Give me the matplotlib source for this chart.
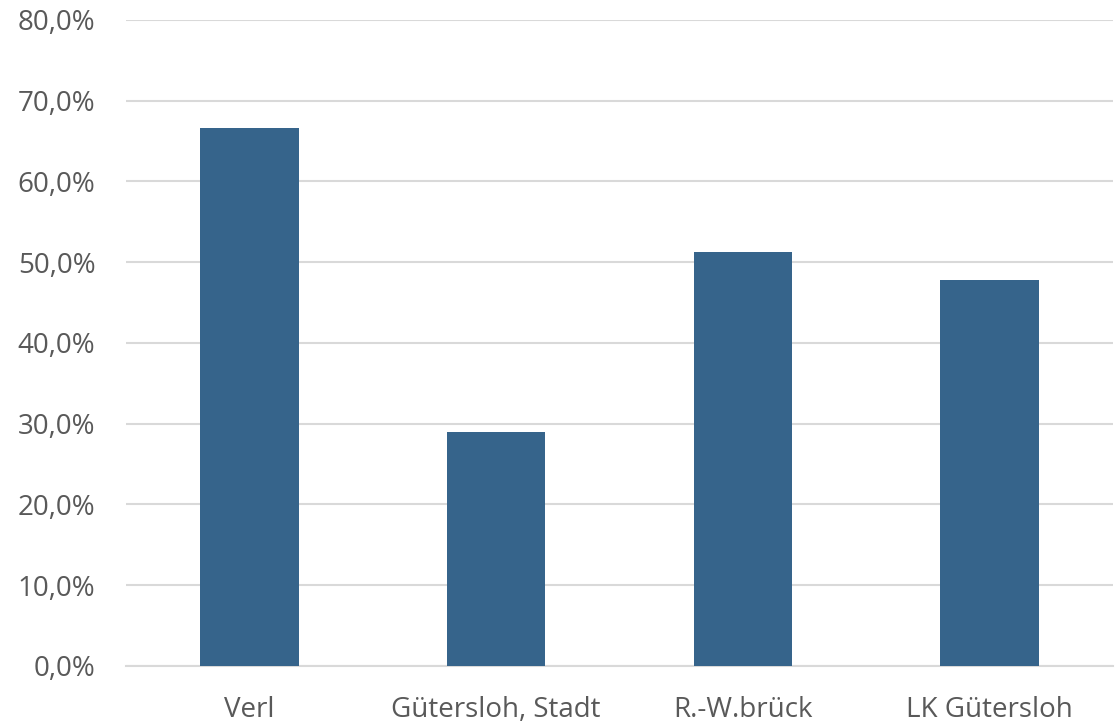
import matplotlib
matplotlib.use('Agg')

import matplotlib.pyplot as plt
import numpy as np
from matplotlib.ticker import FuncFormatter

# Data
categories = ['Verl', 'Gütersloh, Stadt', 'R.-W.brück', 'LK Gütersloh']
values = [66.6, 29.0, 51.2, 47.8]
y_ticks = [0, 10, 20, 30, 40, 50, 60, 70, 80]

bar_color = '#36648B'
text_color = '#595959'
grid_color = '#D9D9D9'

plt.rcParams['font.family'] = ['Open Sans', 'DejaVu Sans']

fig = plt.figure(figsize=(11.17, 7.24), dpi=100)
ax = fig.add_axes([0.1128, 0.0805, 0.8836, 0.8919])

x = np.arange(len(categories))
ax.bar(x, values, width=0.4, color=bar_color, zorder=3)

ax.set_xlim(-0.5, len(categories) - 0.5)
ax.set_ylim(0, 80)
ax.set_yticks(y_ticks)
ax.yaxis.set_major_formatter(FuncFormatter(lambda v, p: f'{v:.1f}%'.replace('.', ',')))
ax.set_xticks(x)
ax.set_xticklabels(categories)

ax.grid(axis='y', color=grid_color, linewidth=1.5, zorder=0)
for s in ['top', 'right', 'left']:
    ax.spines[s].set_visible(False)
ax.spines['bottom'].set_color(grid_color)
ax.spines['bottom'].set_linewidth(1.5)

ax.tick_params(axis='both', length=0, labelsize=20, colors=text_color)
ax.tick_params(axis='y', pad=22)
ax.tick_params(axis='x', pad=22)

fig.savefig('out.png', dpi=100)
plt.close(fig)
